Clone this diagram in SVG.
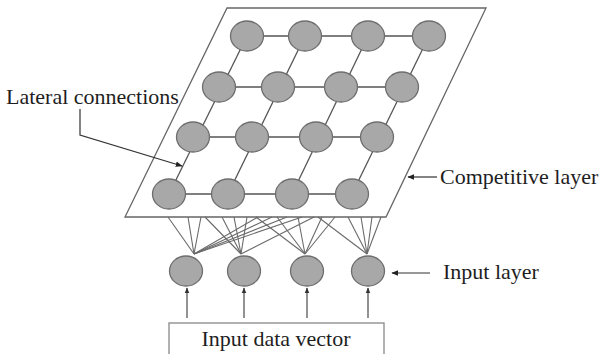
<svg xmlns="http://www.w3.org/2000/svg" width="599" height="354" viewBox="0 0 599 354">
  <defs>
    <style>
      .lbl { font-family: "Liberation Serif", "Times New Roman", serif; font-size: 22px; fill: #1e1e1e; }
      .node { fill: #a8a8a8; stroke: #6e6e6e; stroke-width: 1.3; }
      .grid { stroke: #555; stroke-width: 1.3; fill: none; }
      .fan { stroke: #6a6a6a; stroke-width: 1.1; fill: none; }
      .plane { fill: #fff; stroke: #666; stroke-width: 1.3; }
      .arrow { stroke: #333; stroke-width: 1.2; fill: none; marker-end: url(#head); }
      .up { stroke: #777; stroke-width: 1.6; fill: none; marker-end: url(#headGray); }
    </style>
    <marker id="head" viewBox="0 0 10 10" refX="9" refY="5" markerWidth="7" markerHeight="7" orient="auto" markerUnits="userSpaceOnUse">
      <path d="M0,1 L10,5 L0,9 Z" fill="#222"/>
    </marker>
    <marker id="headGray" viewBox="0 0 10 10" refX="9" refY="5" markerWidth="6" markerHeight="6" orient="auto" markerUnits="userSpaceOnUse">
      <path d="M0,1 L10,5 L0,9 Z" fill="#333"/>
    </marker>
  </defs>
  <rect width="599" height="354" fill="#fff"/>

  <!-- competitive layer plane -->
  <g id="competitive-plane">
    <polygon class="plane" points="227,8 486,8 386,217 125,217"/>
  </g>

  <g id="connectors">
    <!-- lateral connections: rows -->
    <line class="grid" x1="247" y1="36" x2="429" y2="36"/>
    <line class="grid" x1="219" y1="87" x2="402" y2="87"/>
    <line class="grid" x1="193" y1="137" x2="377" y2="137"/>
    <line class="grid" x1="169" y1="194" x2="352" y2="194"/>
    <!-- lateral connections: columns -->
    <line class="grid" x1="169" y1="194" x2="247" y2="36"/>
    <line class="grid" x1="228" y1="194" x2="305" y2="36"/>
    <line class="grid" x1="292" y1="194" x2="368" y2="36"/>
    <line class="grid" x1="352" y1="194" x2="429" y2="36"/>

    <!-- input-to-competitive fan -->
    <g class="fan">
      <line x1="194" y1="254" x2="168" y2="217"/>
      <line x1="194" y1="254" x2="188" y2="217"/>
      <line x1="194" y1="254" x2="201" y2="217"/>
      <line x1="194" y1="254" x2="258" y2="217"/>
      <line x1="194" y1="254" x2="272" y2="217"/>
      <line x1="194" y1="254" x2="287" y2="217"/>
      <line x1="194" y1="254" x2="302" y2="217"/>

      <line x1="241" y1="254" x2="205" y2="217"/>
      <line x1="241" y1="254" x2="222" y2="217"/>
      <line x1="241" y1="254" x2="234" y2="217"/>
      <line x1="241" y1="254" x2="247" y2="217"/>
      <line x1="241" y1="254" x2="314" y2="217"/>

      <line x1="305" y1="254" x2="256" y2="217"/>
      <line x1="305" y1="254" x2="277" y2="217"/>
      <line x1="305" y1="254" x2="298" y2="217"/>
      <line x1="305" y1="254" x2="322" y2="217"/>
      <line x1="305" y1="254" x2="335" y2="217"/>

      <line x1="367" y1="254" x2="318" y2="217"/>
      <line x1="367" y1="254" x2="348" y2="217"/>
      <line x1="367" y1="254" x2="361" y2="217"/>
      <line x1="367" y1="254" x2="372" y2="217"/>
      <line x1="367" y1="254" x2="381" y2="217"/>
    </g>

    <!-- data vector to input layer -->
    <line class="up" x1="187" y1="318" x2="187" y2="288"/>
    <line class="up" x1="244" y1="318" x2="244" y2="288"/>
    <line class="up" x1="307" y1="318" x2="307" y2="288"/>
    <line class="up" x1="368" y1="318" x2="368" y2="288"/>

    <!-- label leaders -->
    <polyline class="arrow" points="80,109 80,135 182,166"/>
    <line class="arrow" x1="437" y1="177" x2="408" y2="177"/>
    <line class="arrow" x1="430" y1="273" x2="392" y2="273"/>
  </g>

  <!-- competitive layer nodes -->
  <g id="competitive-nodes">
    <g id="c11"><ellipse class="node" cx="247" cy="36" rx="16.5" ry="15"/></g>
    <g id="c12"><ellipse class="node" cx="305" cy="36" rx="16.5" ry="15"/></g>
    <g id="c13"><ellipse class="node" cx="368" cy="36" rx="16.5" ry="15"/></g>
    <g id="c14"><ellipse class="node" cx="429" cy="36" rx="16.5" ry="15"/></g>
    <g id="c21"><ellipse class="node" cx="219" cy="87" rx="16.5" ry="15"/></g>
    <g id="c22"><ellipse class="node" cx="278" cy="87" rx="16.5" ry="15"/></g>
    <g id="c23"><ellipse class="node" cx="341" cy="87" rx="16.5" ry="15"/></g>
    <g id="c24"><ellipse class="node" cx="402" cy="87" rx="16.5" ry="15"/></g>
    <g id="c31"><ellipse class="node" cx="193" cy="137" rx="16.5" ry="15"/></g>
    <g id="c32"><ellipse class="node" cx="252" cy="137" rx="16.5" ry="15"/></g>
    <g id="c33"><ellipse class="node" cx="316" cy="137" rx="16.5" ry="15"/></g>
    <g id="c34"><ellipse class="node" cx="377" cy="137" rx="16.5" ry="15"/></g>
    <g id="c41"><ellipse class="node" cx="169" cy="194" rx="16.5" ry="15"/></g>
    <g id="c42"><ellipse class="node" cx="228" cy="194" rx="16.5" ry="15"/></g>
    <g id="c43"><ellipse class="node" cx="292" cy="194" rx="16.5" ry="15"/></g>
    <g id="c44"><ellipse class="node" cx="352" cy="194" rx="16.5" ry="15"/></g>
  </g>

  <!-- input layer nodes -->
  <g id="input-nodes">
    <g id="in1"><ellipse class="node" cx="186" cy="271" rx="16.5" ry="15"/></g>
    <g id="in2"><ellipse class="node" cx="244" cy="271" rx="16.5" ry="15"/></g>
    <g id="in3"><ellipse class="node" cx="307" cy="271" rx="16.5" ry="15"/></g>
    <g id="in4"><ellipse class="node" cx="368" cy="271" rx="16.5" ry="15"/></g>
  </g>

  <!-- input data vector box -->
  <g id="input-vector">
    <rect x="169" y="323" width="215" height="40" fill="#fff" stroke="#888" stroke-width="1.3"/>
    <text class="lbl" x="276" y="346" text-anchor="middle">Input data vector</text>
  </g>

  <!-- labels -->
  <g id="label-lateral"><text class="lbl" x="6" y="104">Lateral connections</text></g>
  <g id="label-competitive"><text class="lbl" x="440" y="184">Competitive layer</text></g>
  <g id="label-input"><text class="lbl" x="443" y="279">Input layer</text></g>
</svg>
